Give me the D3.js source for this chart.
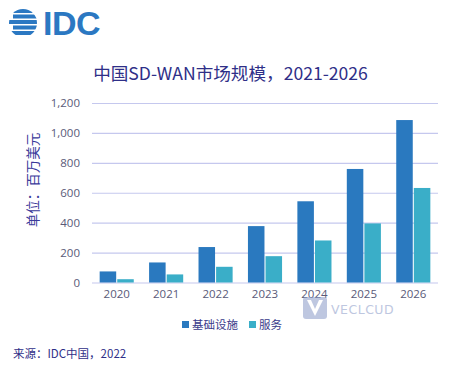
<!DOCTYPE html>
<html><head><meta charset="utf-8">
<script src="https://cdn.jsdelivr.net/npm/d3@7"></script>
<style>body{margin:0;background:#fff;}svg{display:block;font-family:"Noto Sans CJK SC","Noto Sans",sans-serif;}</style>
</head><body>
<svg id="c" width="450" height="365"></svg>
<script>
const years = ["2020","2021","2022","2023","2024","2025","2026"];
const infra = [74, 134, 237, 377, 543, 759, 1086];
const services = [22, 54, 105, 176, 281, 395, 632];
const seriesNames = ["基础设施", "服务"];
const yTicks = [0, 200, 400, 600, 800, 1000, 1200];
const colors = ["#2a79bf", "#3aaec8"];

const svg = d3.select("#c");
const x = d3.scaleBand().domain(years).range([92, 438]).paddingInner(0.31).paddingOuter(0.155);
const x1 = d3.scaleBand().domain([0,1]).range([0, x.bandwidth()]).paddingInner(0.06);
const y = d3.scaleLinear().domain([0, 1200]).range([282.5, 103]);

// gridlines
svg.append("g").selectAll("line").data(yTicks).join("line")
  .attr("x1", 92).attr("x2", 438)
  .attr("y1", d => y(d)+0.5).attr("y2", d => y(d)+0.5)
  .attr("stroke", "#c5c8ee").attr("stroke-width", 1.2);

// y labels
const yAxis = d3.axisLeft(y).tickValues(yTicks).tickSize(0).tickPadding(0).tickFormat(d3.format(","));
const ga = svg.append("g").attr("transform", "translate(80,0)").call(yAxis);
ga.select(".domain").remove();
ga.selectAll("text").attr("fill", "#595a78").attr("font-size", 11.5).attr("font-family", "'Open Sans','Noto Sans',sans-serif");

// bars
const data = years.map((yr, i) => ({yr, vals: [infra[i], services[i]]}));
const g = svg.append("g").selectAll("g").data(data).join("g")
  .attr("transform", d => `translate(${x(d.yr)},0)`);
g.selectAll("rect").data(d => d.vals).join("rect")
  .attr("x", (d, i) => x1(i)).attr("width", x1.bandwidth())
  .attr("y", d => y(d)).attr("height", d => y(0) - y(d))
  .attr("fill", (d, i) => colors[i]);

// x labels
const xAxis = d3.axisBottom(x).tickSize(0).tickPadding(0);
const gx = svg.append("g").attr("transform", "translate(0,290)").call(xAxis);
gx.select(".domain").remove();
gx.selectAll("text").attr("fill", "#595a78").attr("font-size", 11.5).attr("font-family", "'Open Sans','Noto Sans',sans-serif");

// title
svg.append("text").attr("x", 230.5).attr("y", 79.5).attr("text-anchor", "middle")
  .attr("fill", "#2f2f88").attr("font-size", 17.6).text("中国SD-WAN市场规模，2021-2026");

// y title
svg.append("text").attr("transform", "translate(38,180) rotate(-90)").attr("text-anchor", "middle")
  .attr("fill", "#3a3a9a").attr("font-size", 13.5).text("单位：百万美元");

// legend
const leg = svg.append("g").attr("transform", "translate(182,325)");
const legX = [0, 67];
seriesNames.forEach((n, i) => {
  leg.append("rect").attr("x", legX[i]).attr("y", -4).attr("width", 7).attr("height", 7).attr("fill", colors[i]);
  leg.append("text").attr("x", legX[i] + 10).attr("y", 4).attr("fill", "#3a3a8a").attr("font-size", 11.5).text(n);
});

// source
svg.append("text").attr("x", 13).attr("y", 358).attr("fill", "#2f2f88").attr("font-size", 11.5).text("来源：IDC中国，2022");

// watermark
const wm = svg.append("g").attr("opacity", 0.55);
wm.append("rect").attr("x", 303).attr("y", 297).attr("width", 24).attr("height", 22).attr("rx", 3).attr("fill", "#8a9ac8");
wm.append("path").attr("d", "M307 300 L315 316 L323 300 L319 300 L315 309 L311 300 Z").attr("fill", "#fff");
wm.append("text").attr("x", 331).attr("y", 314).attr("fill", "#8a9ac8").attr("font-size", 12.5).attr("font-family", "'DejaVu Sans',sans-serif").attr("letter-spacing", 0.5).text("VECLCUD");

// IDC logo
const logo = svg.append("g");
const cx = 23, cy = 23, r = 14;
const clip = svg.append("clipPath").attr("id", "gl");
clip.append("circle").attr("cx", cx).attr("cy", cy).attr("r", r);
const sg = logo.append("g").attr("clip-path", "url(#gl)");
[-14,-8.5,-3,2.5,8].forEach((dy, i) => {
  sg.append("rect").attr("x", cx - r + (i%2 ? 4 : 0)).attr("y", cy + dy).attr("width", 2*r).attr("height", 4).attr("fill", "#2b78c2");
});
logo.append("text").attr("x", 43).attr("y", 35).attr("fill", "#2b78c2").attr("font-size", 34).attr("font-weight", "bold")
  .attr("font-family", "'Liberation Sans',Arial,sans-serif").attr("letter-spacing", -0.5).text("IDC");
</script>
</body></html>
